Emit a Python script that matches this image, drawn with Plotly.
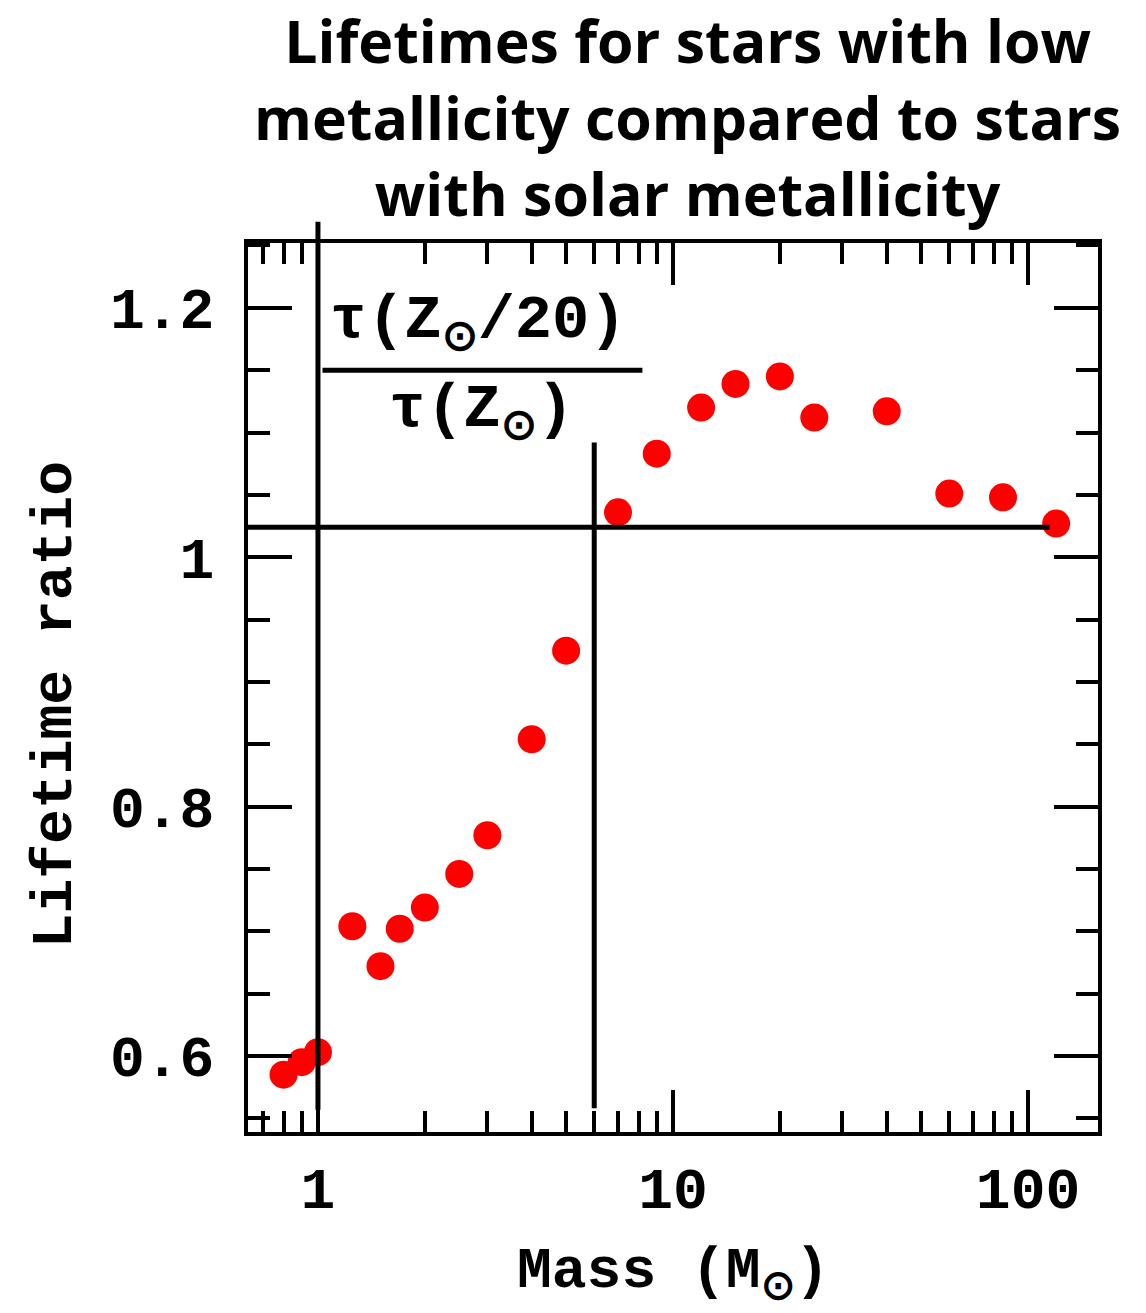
import plotly.graph_objects as go

# Stellar mass (solar masses) and lifetime ratio tau(Z_sun/20) / tau(Z_sun)
mass = [0.8, 0.9, 1.0, 1.25, 1.5, 1.7, 2.0, 2.5, 3.0, 4.0, 5.0,
        7.0, 9.0, 12.0, 15.0, 20.0, 25.0, 40.0, 60.0, 85.0, 120.0]
ratio = [0.585, 0.595, 0.603, 0.704, 0.672, 0.702, 0.719, 0.746, 0.777, 0.854, 0.925,
         1.036, 1.083, 1.120, 1.139, 1.145, 1.112, 1.117, 1.051, 1.048, 1.027]

x_tickvals = [1, 10, 100]
x_ticktext = ["1", "10", "100"]
x_minor = [0.7, 0.8, 0.9] + [k for k in range(2, 10)] + [10 * k for k in range(2, 10)]
y_tickvals = [0.6, 0.8, 1.0, 1.2]
y_ticktext = ["0.6", "0.8", "1", "1.2"]

x_range_log = [-0.197, 2.197]
y_range = [0.539, 1.252]

# Guide lines: reference level, boundary masses, fraction bar
h_line_level = 1.024
h_line_end = 115
v_line_low = 1.0
v_line_high = 6.0
v_line_high_span = [0.558, 1.092]
frac_bar_span = [1.03, 8.2]
frac_bar_level = 1.150

mono = "Liberation Mono"

fig = go.Figure()
fig.add_trace(go.Scatter(
    x=mass, y=ratio, mode="markers",
    marker=dict(color="#ff0000", size=28, line=dict(width=0)),
    showlegend=False,
))

axis_common = dict(
    showline=True, linewidth=4, linecolor="black", mirror="ticks",
    ticks="inside", tickwidth=4, tickcolor="black",
    showgrid=False, zeroline=False,
    tickfont=dict(family=mono, size=58, color="black", weight="bold"),
)

fig.update_xaxes(
    type="log", range=x_range_log,
    tickmode="array", tickvals=x_tickvals, ticktext=x_ticktext,
    ticklen=42, ticklabelstandoff=2,
    minor=dict(tickmode="array", tickvals=x_minor, ticks="inside",
               ticklen=21, tickwidth=4, tickcolor="black", showgrid=False),
    **axis_common,
)
fig.update_yaxes(
    range=y_range,
    tickmode="array", tickvals=y_tickvals, ticktext=y_ticktext,
    ticklen=44, ticklabelstandoff=18,
    minor=dict(dtick=0.05, tick0=0.0, ticks="inside",
               ticklen=22, tickwidth=4, tickcolor="black", showgrid=False),
    **axis_common,
)

line_style = dict(color="black", width=5)
x_left = 10 ** x_range_log[0]
fig.add_shape(type="line", xref="x", yref="y",
              x0=x_left, x1=h_line_end, y0=h_line_level, y1=h_line_level, line=line_style)
fig.add_shape(type="line", xref="x", yref="paper",
              x0=v_line_low, x1=v_line_low, y0=0.025, y1=1.024, line=line_style)
fig.add_shape(type="line", xref="x", yref="y",
              x0=v_line_high, x1=v_line_high,
              y0=v_line_high_span[0], y1=v_line_high_span[1], line=line_style)
fig.add_shape(type="line", xref="x", yref="y",
              x0=frac_bar_span[0], x1=frac_bar_span[1],
              y0=frac_bar_level, y1=frac_bar_level, line=dict(color="black", width=5))

frac_font = dict(family=mono, size=62, color="black", weight="bold")
fig.add_annotation(x=0.451, y=1.187, xref="x", yref="y", showarrow=False,
                   text="τ(Z<sub>⊙</sub>/20)", font=frac_font)
fig.add_annotation(x=0.46, y=1.116, xref="x", yref="y", showarrow=False,
                   text="τ(Z<sub>⊙</sub>)", font=frac_font)

title_font = dict(family=mono, size=58, color="black", weight="bold")
fig.add_annotation(x=0.5, y=-0.161, xref="paper", yref="paper", showarrow=False,
                   text="Mass (M<sub>⊙</sub>)", font=title_font, yanchor="middle")
fig.add_annotation(x=-0.227, y=0.480, xref="paper", yref="paper", showarrow=False,
                   text="Lifetime ratio", textangle=-90, font=title_font, xanchor="center")

# Chart heading, three centred lines above the frame
fig.add_annotation(
    x=0.5176, y=1.142, xref="paper", yref="paper", showarrow=False,
    xanchor="center", yanchor="middle", align="center",
    text="Lifetimes for stars with low<br>metallicity compared to stars<br>with solar metallicity",
    font=dict(family="Open Sans", size=59, color="black", weight="bold"),
)

fig.update_layout(
    width=1146, height=1313,
    margin=dict(l=248, r=48, t=243, b=181),
    paper_bgcolor="white", plot_bgcolor="white",
)

fig.write_html("out.html")
